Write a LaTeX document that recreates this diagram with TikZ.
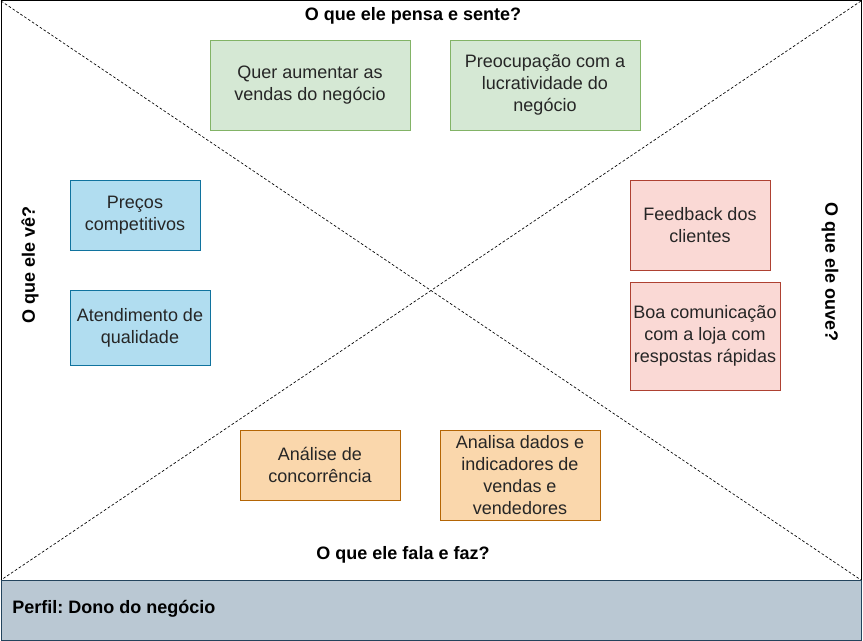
\documentclass[tikz,border=0pt]{standalone}
\usepackage{fontspec}
\setmainfont{Liberation Sans}
\frenchspacing
\begin{document}
\begin{tikzpicture}[x=0.75pt,y=-0.75pt,
  box/.style={draw, rectangle, align=center, inner sep=2pt, font=\fontsize{13.5}{16.5}\selectfont, text=black!85},
  gbox/.style={box, fill={rgb,255:red,213;green,232;blue,212}, draw={rgb,255:red,130;green,179;blue,102}},
  bbox/.style={box, fill={rgb,255:red,177;green,221;blue,240}, draw={rgb,255:red,16;green,115;blue,158}},
  rbox/.style={box, fill={rgb,255:red,250;green,217;blue,213}, draw={rgb,255:red,174;green,65;blue,50}},
  obox/.style={box, fill={rgb,255:red,250;green,215;blue,172}, draw={rgb,255:red,180;green,101;blue,4}},
  ttl/.style={font=\bfseries\fontsize{13.5}{15}\selectfont, inner sep=0pt},
  diag/.style={line width=0.5pt, dash pattern=on 2pt off 1.5pt}
]
\useasboundingbox (0,0) rectangle (863,641);
\fill[white] (0,0) rectangle (863,641);
% outer frame
\coordinate (tl) at (1,1);
\coordinate (tr) at (861,1);
\coordinate (bl) at (1,580);
\coordinate (br) at (861,580);
\draw[line width=0.75pt] (tl) rectangle (br);
\draw[diag] (tl) -- (br);
\draw[diag] (tr) -- (bl);
% profile bar
\draw[line width=0.75pt, fill={rgb,255:red,186;green,200;blue,211}, draw={rgb,255:red,35;green,68;blue,93}] (1,580) rectangle (861,640);
\node[ttl, anchor=west] (perfil) at (12,609) {Perfil: Dono do negócio};
% titles
\node[ttl] (pensa) at (413,16) {O que ele pensa e sente?};
\node[ttl] (fala) at (403,555) {O que ele fala e faz?};
\node[ttl, rotate=90] (ve) at (30,265) {O que ele vê?};
\node[ttl, rotate=-90] (ouve) at (830,272) {O que ele ouve?};
% boxes
\node[gbox, minimum width=200*0.75pt, minimum height=90*0.75pt] (g1) at (310,85) {Quer aumentar as\\vendas do negócio};
\node[gbox, minimum width=190*0.75pt, minimum height=90*0.75pt] (g2) at (545,85) {Preocupação com a\\lucratividade do\\negócio};
\node[bbox, minimum width=130*0.75pt, minimum height=70*0.75pt] (b1) at (135,215) {Preços\\competitivos};
\node[bbox, minimum width=140*0.75pt, minimum height=75*0.75pt] (b2) at (140,327.5) {Atendimento de\\qualidade};
\node[rbox, minimum width=140*0.75pt, minimum height=90*0.75pt] (r1) at (700,225) {Feedback dos\\clientes};
\node[rbox, minimum width=150*0.75pt, minimum height=108*0.75pt] (r2) at (705,336) {Boa comunicação\\com a loja com\\respostas rápidas};
\node[obox, minimum width=160*0.75pt, minimum height=70*0.75pt] (o1) at (320,465) {Análise de\\concorrência};
\node[obox, minimum width=160*0.75pt, minimum height=90*0.75pt] (o2) at (520,475) {Analisa dados e\\indicadores de\\vendas e\\vendedores};
\end{tikzpicture}
\end{document}
